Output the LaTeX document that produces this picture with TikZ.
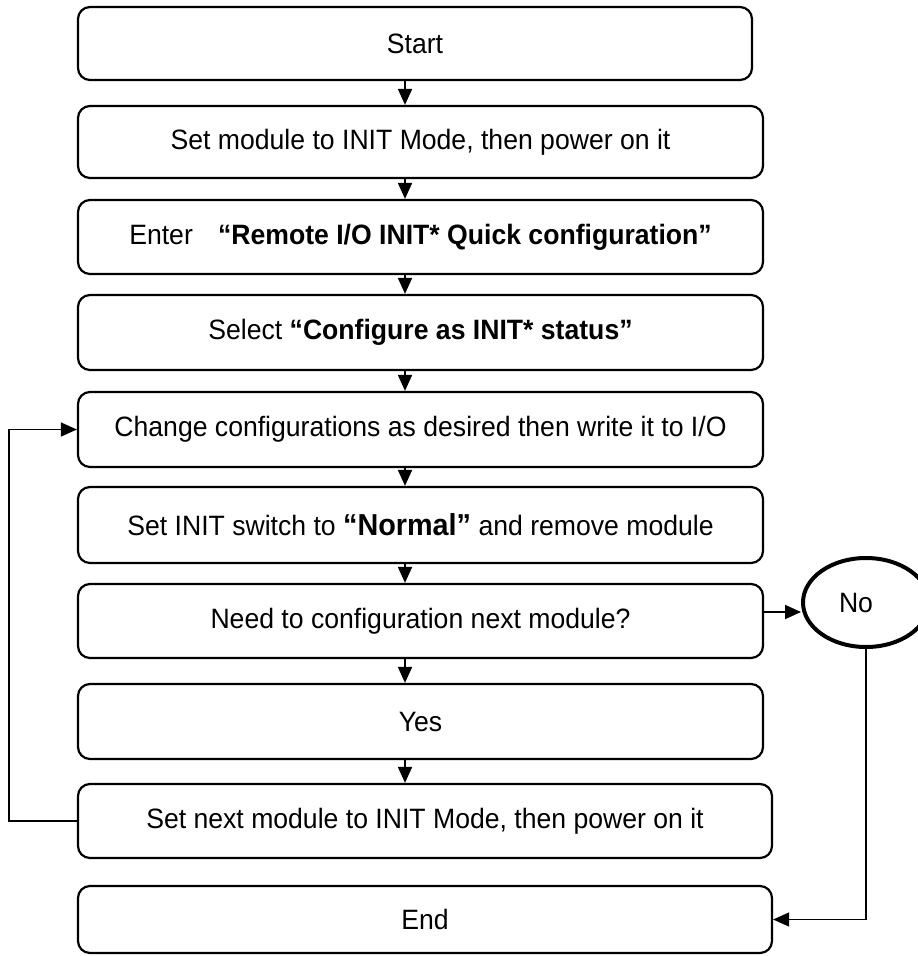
\documentclass[tikz,border=0pt]{standalone}
\usepackage{fontspec}
\setmainfont{Liberation Sans}[FakeStretch=0.95]
\usetikzlibrary{arrows.meta,shapes.geometric}
\begin{document}
\begin{tikzpicture}[x=1pt,y=-1pt,
  box/.style={draw,line width=2.2pt,rounded corners=12pt,minimum height=74pt,inner sep=0pt,
    font=\fontsize{28}{30}\selectfont},
  wideA/.style={minimum width=685pt},
  wideB/.style={minimum width=694pt},
  arr/.style={line width=1.8pt,-{Triangle[length=16pt,width=14pt]}},
  loopline/.style={line width=1.3pt,-{Triangle[length=16pt,width=14pt]}},
  decision/.style={ellipse,draw,line width=4pt,minimum width=126pt,minimum height=89pt,inner sep=0pt,
    font=\fontsize{28}{30}\selectfont}]
\useasboundingbox (0,0) rectangle (918,956);
\clip (0,0) rectangle (918,956);
\fill[white] (0,0) rectangle (918,956);

\node[box,minimum width=674pt,minimum height=73pt] (b1) at (415,43.5) {Start};
\node[box,wideA,minimum height=72pt] (b2) at (420.5,142) {Set module to INIT Mode, then power on it};
\node[box,wideA] (b3) at (420.5,237) {Enter\hspace{0.9em}\textbf{“Remote I/O INIT* Quick configuration”}};
\node[box,wideA,minimum height=75pt] (b4) at (420.5,332.5) {Select \textbf{“Configure as INIT* status”}};
\node[box,wideA,minimum height=75pt] (b5) at (420.5,429.5) {Change configurations as desired then write it to I/O};
\node[box,wideA,minimum height=76pt] (b6) at (420.5,525) {Set INIT switch to {\fontsize{30.3}{32}\selectfont\textbf{“Normal”}} and remove module};
\node[box,wideA] (b7) at (420.5,621) {Need to configuration next module?};
\node[box,wideA,minimum height=75pt] (b8) at (420.5,721.5) {Yes};
\node[box,wideB] (b9) at (425,821) {Set next module to INIT Mode, then power on it};
\node[box,wideB,minimum height=67pt] (b10) at (425,919.5) {End};
\node[decision] (no) at (866,602.5) {\hspace*{-20pt}\raisebox{-2pt}{No}};

\coordinate (ax) at (405,0);
\draw[arr] (b1.south -| ax) -- (b2.north -| ax);
\draw[arr] (b2.south -| ax) -- (b3.north -| ax);
\draw[arr] (b3.south -| ax) -- (b4.north -| ax);
\draw[arr] (b4.south -| ax) -- (b5.north -| ax);
\draw[arr] (b5.south -| ax) -- (b6.north -| ax);
\draw[arr] (b6.south -| ax) -- (b7.north -| ax);
\draw[arr] (b7.south -| ax) -- (b8.north -| ax);
\draw[arr] (b8.south -| ax) -- (b9.north -| ax);

\draw[arr] ([yshift=9pt]b7.east) -- ([yshift=-9.5pt]no.west);
\draw[loopline] (no.south) |- (b10.east);
\draw[loopline] (b9.west) -- ++(-68,0) |- (b5.west);
\end{tikzpicture}
\end{document}
